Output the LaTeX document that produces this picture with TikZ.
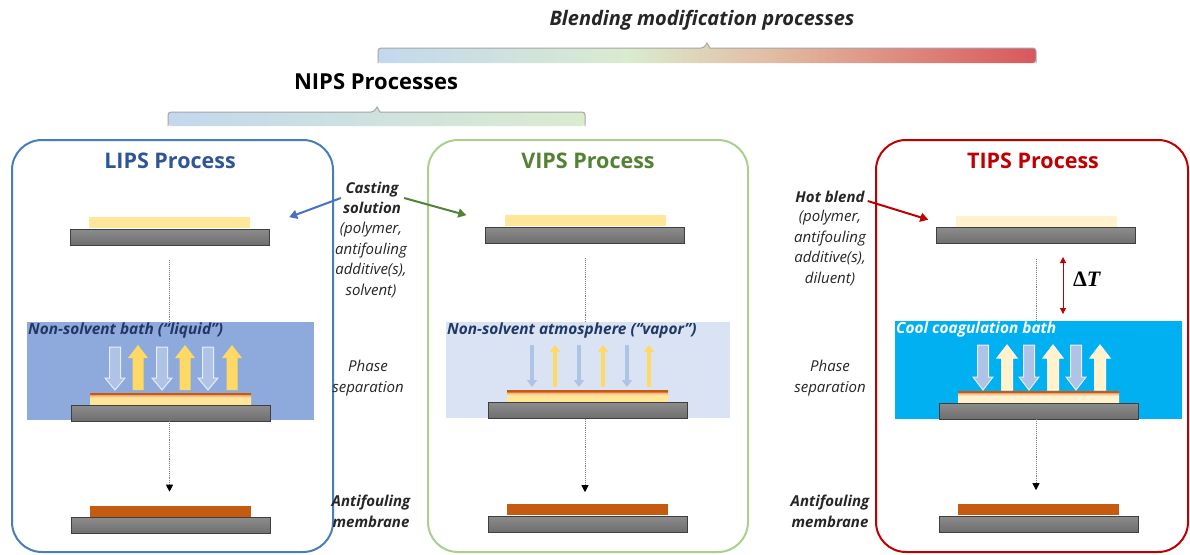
\documentclass[tikz,border=0pt]{standalone}
\usepackage{fontspec}
\setmainfont{Open Sans}
\newfontfamily\deltafont{Liberation Serif}
\usetikzlibrary{arrows.meta,positioning}

\definecolor{lipsline}{HTML}{4A7EBB}
\definecolor{lipstext}{HTML}{2F5597}
\definecolor{vipsline}{HTML}{A9D18E}
\definecolor{vipstext}{HTML}{548235}
\definecolor{tipsline}{HTML}{C00000}
\definecolor{lipsbathc}{HTML}{8EA9DB}
\definecolor{vipsbathc}{HTML}{DAE3F3}
\definecolor{tipsbathc}{HTML}{00B0F0}
\definecolor{bathtext}{HTML}{1F3864}
\definecolor{platetop}{HTML}{8C8C8C}
\definecolor{platebot}{HTML}{6E6E6E}
\definecolor{plateedge}{HTML}{3F3F3F}
\definecolor{filmyellow}{HTML}{FFE699}
\definecolor{filmpale}{HTML}{FFF2CC}
\definecolor{filmpeach}{HTML}{F4B183}
\definecolor{filmorange}{HTML}{C55A11}
\definecolor{downblue}{HTML}{AFC3E6}
\definecolor{upyellow}{HTML}{FFD966}
\definecolor{notetext}{HTML}{262626}
\definecolor{barblue}{HTML}{C3D8EE}
\definecolor{bargreen}{HTML}{DAEBCF}
\definecolor{bartan}{HTML}{E2C0A6}
\definecolor{barred}{HTML}{D9575C}
\definecolor{baredge}{HTML}{A6A6A6}
\definecolor{castblue}{HTML}{4472C4}
\definecolor{castgreen}{HTML}{548235}
\definecolor{flowgray}{HTML}{7F7F7F}

\pgfdeclarehorizontalshading{blendbar}{100bp}{color(0bp)=(barblue); color(25bp)=(barblue); color(44bp)=(bargreen); color(54bp)=(bartan); color(75bp)=(barred); color(100bp)=(barred)}
\pgfdeclarehorizontalshading{nipsbar}{100bp}{color(0bp)=(barblue); color(25bp)=(barblue); color(75bp)=(bargreen); color(100bp)=(bargreen)}
\pgfdeclareverticalshading{wetfilm}{100bp}{color(0bp)=(filmyellow); color(25bp)=(filmyellow); color(55bp)=(filmyellow); color(67bp)=(filmpeach); color(72bp)=(filmorange); color(100bp)=(filmorange)}
\pgfdeclareverticalshading{hotfilm}{100bp}{color(0bp)=(filmpale); color(25bp)=(filmpale); color(55bp)=(filmpale); color(67bp)=(filmpeach); color(72bp)=(filmorange); color(100bp)=(filmorange)}

\begin{document}
\begin{tikzpicture}[
      x=1pt, y=-1pt,
      procbox/.style={line width=2pt,rounded corners=30pt},
      title/.style={font=\fontsize{21.5}{24}\selectfont\bfseries,inner sep=0pt},
      note/.style={font=\fontsize{15}{20.7}\selectfont\itshape,align=center,text=notetext,inner sep=0pt},
      boldnote/.style={note,font=\fontsize{15}{20.7}\selectfont\bfseries\itshape},
      bath/.style={minimum width=287pt,minimum height=98pt,inner sep=0pt,anchor=north west},
      bathlabel/.style={font=\fontsize{15.4}{17}\selectfont\bfseries\itshape,inner sep=1pt,anchor=north west},
      plate/.style={draw=plateedge,line width=0.8pt,top color=platetop,bottom color=platebot,minimum width=199pt,minimum height=16pt,inner sep=0pt},
      film/.style={minimum width=161pt,minimum height=11pt,inner sep=0pt,anchor=south},
      flow/.style={flowgray,line width=0.9pt,densely dotted,-{Triangle[width=7pt,length=7pt,color=black]}},
      feed/.style={line width=2pt,-{Triangle[width=9pt,length=8pt]}},
      downblock/.style={fill=downblue,draw=white!70!downblue,line width=1pt},
      upblock/.style={fill=upyellow,draw=none},
      thindown/.style={downblue,line width=4.5pt,-{Triangle[width=10pt,length=7pt]}},
      thinup/.style={upyellow,line width=4.5pt,-{Triangle[width=10pt,length=7pt]}}
    ]
    \useasboundingbox (0,0) rectangle (1190,554);
    \fill[white] (0,0) rectangle (1190,554);
    % Draw the two brackets on top.
    \node[font=\fontsize{20}{22}\selectfont\bfseries\itshape,text=notetext] (blendlabel) at (702,20) {Blending modification processes};
    \path[shading=blendbar,rounded corners=3pt] (378,63) |- (704,48) [sharp corners] -- (707,43) -- (710,48) [rounded corners=3pt] -| (1036,63) -- cycle;
    \draw[baredge,line width=1pt,rounded corners=3pt] (378,63) |- (704,48) [sharp corners] -- (707,43) -- (710,48) [rounded corners=3pt] -| (1036,63);
    \node[font=\fontsize{22}{24}\selectfont\bfseries] (nipslabel) at (376,82) {NIPS Processes};
    \path[shading=nipsbar,rounded corners=3pt] (168,126) |- (374,112) [sharp corners] -- (377,107) -- (380,112) [rounded corners=3pt] -| (585,126) -- cycle;
    \draw[baredge,line width=1pt,rounded corners=3pt] (168,126) |- (374,112) [sharp corners] -- (377,107) -- (380,112) [rounded corners=3pt] -| (585,126);
    % Draw the process boxes.
    \draw[procbox,lipsline] (12,140) rectangle (333,552);
    \draw[procbox,vipsline] (428,140) rectangle (748,552);
    \draw[procbox,tipsline] (876,140) rectangle (1188,552);
    \node[title,text=lipstext] (lipstitle) at (170,161) {LIPS Process};
    \node[title,text=vipstext] (vipstitle) at (588,161) {VIPS Process};
    \node[title,text=tipsline] (tipstitle) at (1033,161) {TIPS Process};
    % Draw the baths.
    \node[bath,fill=lipsbathc] (lipsbath) at (27,322) {};
    \node[bath,fill=vipsbathc,minimum width=284pt,minimum height=96pt] (vipsbath) at (446,322) {};
    \node[bath,fill=tipsbathc] (tipsbath) at (895,321) {};
    \node[bathlabel,text=bathtext] (lipsbathlbl) at (lipsbath.north west) {Non-solvent bath (“liquid”)};
    \node[bathlabel,text=bathtext] (vipsbathlbl) at (vipsbath.north west) {Non-solvent atmosphere (“vapor”)};
    \node[bathlabel,text=white] (tipsbathlbl) at (tipsbath.north west) {Cool coagulation bath};
    % Draw the plates and films.
    \node[plate] (lipsplateA) at (169.5,237) {};
    \node[plate] (lipsplateB) at (170.5,413) {};
    \node[plate] (lipsplateC) at (170.5,525.5) {};
    \node[film,fill=filmyellow] (lipsfilmA) at (lipsplateA.north) {};
    \node[film,shading=wetfilm] (lipsfilmB) at (lipsplateB.north) {};
    \node[film,fill=filmorange] (lipsfilmC) at (lipsplateC.north) {};
    \node[plate] (vipsplateA) at (585,235) {};
    \node[plate] (vipsplateB) at (587.5,410.5) {};
    \node[plate] (vipsplateC) at (587.5,524) {};
    \node[film,fill=filmyellow] (vipsfilmA) at (vipsplateA.north) {};
    \node[film,shading=wetfilm] (vipsfilmB) at (vipsplateB.north) {};
    \node[film,fill=filmorange] (vipsfilmC) at (vipsplateC.north) {};
    \node[plate] (tipsplateA) at (1036,235.5) {};
    \node[plate] (tipsplateB) at (1038.5,411) {};
    \node[plate] (tipsplateC) at (1038.5,524) {};
    \node[film,fill=filmpale] (tipsfilmA) at (tipsplateA.north) {};
    \node[film,shading=hotfilm] (tipsfilmB) at (tipsplateB.north) {};
    \node[film,fill=filmorange] (tipsfilmC) at (tipsplateC.north) {};
    % Draw the exchange arrows.
    \foreach \x in {115,162,208}
      \filldraw[downblock] (\x-5.5,347) -- (\x+5.5,347) -- (\x+5.5,378) -- (\x+10,378) -- (\x,390) -- (\x-10,378) -- (\x-5.5,378) -- cycle;
    \foreach \x in {138,185,232}
      \filldraw[upblock] (\x-5.5,390) -- (\x+5.5,390) -- (\x+5.5,358) -- (\x+10,358) -- (\x,345) -- (\x-10,358) -- (\x-5.5,358) -- cycle;
    \foreach \x in {532,579,627}
      \draw[thindown] (\x,345) -- (\x,387);
    \foreach \x in {555,603,649}
      \draw[thinup] (\x,387) -- (\x,345);
    \foreach \x in {983,1029,1076}
      \filldraw[downblock] (\x-5.5,345) -- (\x+5.5,345) -- (\x+5.5,377) -- (\x+10,377) -- (\x,390) -- (\x-10,377) -- (\x-5.5,377) -- cycle;
    \foreach \x in {1007,1053,1100}
      \filldraw[downblock,fill=filmpale,draw=white] (\x-5.5,390) -- (\x+5.5,390) -- (\x+5.5,358) -- (\x+10,358) -- (\x,345) -- (\x-10,358) -- (\x-5.5,358) -- cycle;
    % Draw the flow lines.
    \draw[flowgray,line width=0.9pt,densely dotted,shorten <=15pt] (lipsplateA.south) -- (lipsplateA.south |- lipsbath.north);
    \draw[flow,shorten >=14pt] (lipsplateA.south |- lipsplateB.south) -- (lipsplateA.south |- lipsfilmC.north);
    \draw[flowgray,line width=0.9pt,densely dotted,shorten <=15pt] (vipsplateA.south) -- (vipsplateA.south |- vipsbath.north);
    \draw[flow,shorten >=12pt] (vipsplateA.south |- vipsplateB.south) -- (vipsplateA.south |- vipsfilmC.north);
    \draw[flowgray,line width=0.9pt,densely dotted,shorten <=15pt] (tipsplateA.south) -- (tipsplateA.south |- tipsbath.north);
    \draw[flow,shorten >=14pt] (tipsplateA.south |- tipsplateB.south) -- (tipsplateA.south |- tipsfilmC.north);
    % Side notes.
    \node[boldnote] (casttitle) at (372,198) {Casting\\solution};
    \node[note] (castbody) at (371,260) {(polymer,\\antifouling\\additive(s),\\solvent)};
    \node[note] (lipsphase) at (368,378) {Phase\\separation};
    \node[boldnote] (lipsresult) at (371,511) {Antifouling\\membrane};
    \node[boldnote] (hottitle) at (830,197) {Hot blend};
    \node[note] (hotbody) at (830,248) {(polymer,\\antifouling\\additive(s),\\diluent)};
    \node[note] (tipsphase) at (830,378) {Phase\\separation};
    \node[boldnote] (tipsresult) at (830,511) {Antifouling\\membrane};
    \draw[feed,castblue] ([xshift=-2pt]casttitle.west) -- ([xshift=39pt]lipsfilmA.north east);
    \draw[feed,castgreen] ([xshift=3pt]casttitle.east) -- ([xshift=-38pt]vipsfilmA.north west);
    \draw[feed,tipsline] ([xshift=3pt,yshift=-4pt]hottitle.east) -- ([shift={(-27,4)}]tipsfilmA.north west);
    % Temperature drop.
    \node[font=\fontsize{22}{24}\selectfont\deltafont\bfseries] (dtlabel) at (1087,279) {Δ\textit{T}};
    \coordinate (dttop) at (1063,257);
    \coordinate (dtbot) at (1063,314);
    \draw[tipsline,line width=1pt,{Triangle[width=6pt,length=6pt]}-{Triangle[width=6pt,length=6pt]}] (dttop) -- (dtbot);
    \end{tikzpicture}
\end{document}
